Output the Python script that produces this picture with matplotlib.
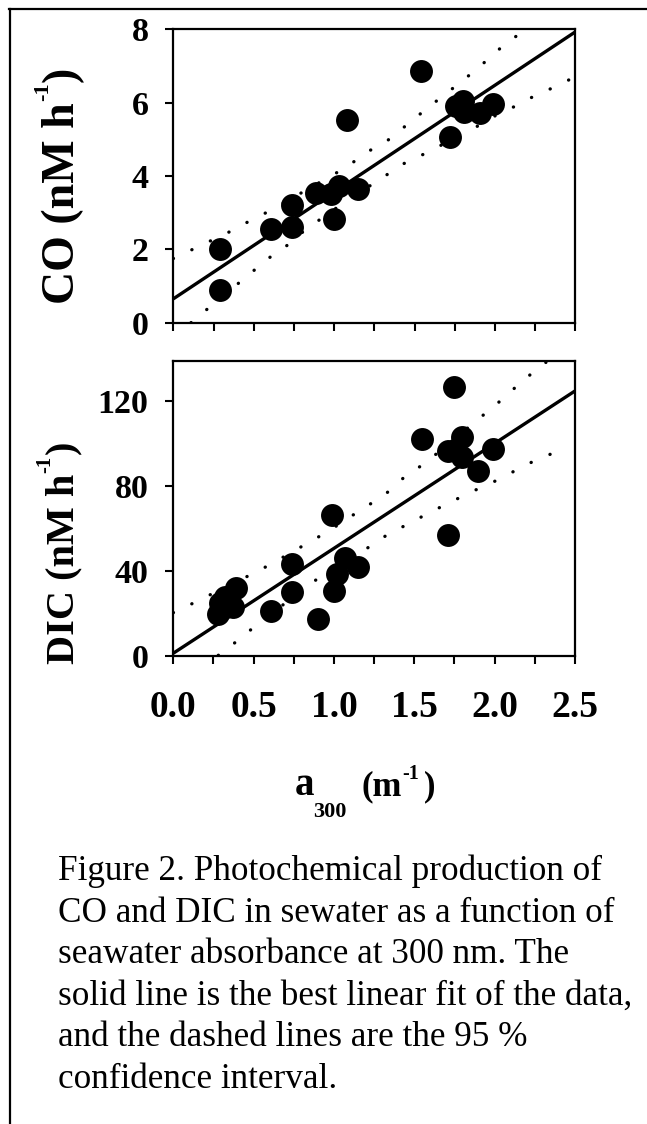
import matplotlib
matplotlib.use("Agg")
import matplotlib.pyplot as plt
from matplotlib.lines import Line2D

plt.rcParams['font.family'] = ['Liberation Serif', 'DejaVu Serif']

# ---------------- data ----------------
co_x = [0.29, 0.29, 0.61, 0.74, 0.74, 0.89, 0.98, 1.03, 1.00, 1.15, 1.08,
        1.54, 1.72, 1.76, 1.80, 1.81, 1.91, 1.99]
co_y = [2.02, 0.89, 2.55, 3.21, 2.62, 3.55, 3.51, 3.73, 2.84, 3.64, 5.53,
        6.86, 5.05, 5.92, 6.05, 5.75, 5.71, 5.96]

co_fit_x = [0.0, 2.5]
co_fit_y = [0.65, 7.93]

co_up_x = [0.0, 0.13, 0.365, 0.477, 0.60, 1.08, 1.20, 1.33, 1.44, 1.56,
           1.67, 1.80, 1.92, 2.03, 2.15, 2.18]
co_up_y = [1.75, 2.02, 2.51, 2.78, 3.05, 4.25, 4.64, 4.96, 5.35, 5.78,
           6.16, 6.60, 7.04, 7.47, 7.87, 8.0]
co_lo_x = [0.11, 0.23, 0.47, 0.59, 0.715, 0.82, 1.06, 1.31, 1.42, 1.55,
           1.67, 1.79, 1.91, 2.02, 2.15, 2.26, 2.38, 2.50]
co_lo_y = [0.0, 0.44, 1.31, 1.75, 2.13, 2.53, 3.27, 3.98, 4.31, 4.58,
           4.85, 5.13, 5.40, 5.69, 5.95, 6.22, 6.44, 6.71]

dic_x = [0.28, 0.29, 0.32, 0.37, 0.39, 0.61, 0.74, 0.74, 0.90, 0.99, 1.00,
         1.02, 1.07, 1.15, 1.55, 1.71, 1.71, 1.75, 1.80, 1.80, 1.90, 1.99]
dic_y = [19.7, 24.8, 27.9, 23.2, 32.1, 21.3, 43.2, 29.9, 17.2, 66.3, 30.7,
         38.4, 45.9, 42.0, 102.1, 96.5, 56.9, 126.6, 103.1, 93.7, 87.1, 97.4]

dic_fit_x = [0.0, 2.5]
dic_fit_y = [1.3, 124.7]

dic_up_x = [0.0, 0.13, 0.48, 0.60, 0.84, 0.97, 1.08, 1.20, 1.33, 1.44, 1.57,
            1.93, 2.04, 2.16, 2.28, 2.32]
dic_up_y = [20.4, 25.1, 38.2, 42.9, 53.3, 58.9, 64.5, 70.2, 76.8, 84.3, 90.9,
            113.4, 120.3, 128.5, 136.0, 138.2]
dic_lo_x = [0.28, 0.40, 0.52, 0.88, 1.24, 1.35, 1.48, 1.59, 1.72, 1.84,
            1.955, 2.08, 2.19, 2.31, 2.44]
dic_lo_y = [0.3, 7.2, 14.7, 35.4, 52.3, 58.0, 62.7, 67.4, 72.1, 76.8,
            80.5, 85.2, 89.9, 93.7, 98.1]

x_ticks = [0.0, 0.25, 0.5, 0.75, 1.0, 1.25, 1.5, 1.75, 2.0, 2.25, 2.5]
x_ticklabels = ['0.0', '', '0.5', '', '1.0', '', '1.5', '', '2.0', '', '2.5']
co_yticks = [0, 2, 4, 6, 8]
dic_yticks = [0, 40, 80, 120]

co_label = ["CO (nM h", "-1", ")"]
dic_label = ["DIC (nM h", "-1", ")"]
x_label = ["a", "300", "(m", "-1", ")"]

caption_lines = [
    "Figure 2. Photochemical production of",
    "CO and DIC in sewater as a function of",
    "seawater absorbance at 300 nm. The",
    "solid line is the best linear fit of the data,",
    "and the dashed lines are the 95 %",
    "confidence interval.",
]

# ---------------- figure ----------------
W, H = 647, 1124
fig = plt.figure(figsize=(W / 100, H / 100), dpi=100)


def fx(x):
    return x / W


def fy(y):
    return 1 - y / H


def make_axes(l, t, r, b):
    return fig.add_axes([fx(l), fy(b), fx(r) - fx(l), fy(t) - fy(b)])


ax1 = make_axes(173.3, 29.3, 575.3, 322.7)
ax2 = make_axes(173.3, 360.7, 574.8, 656.0)

dot_style = dict(color='black', linewidth=2.4, linestyle=(0, (0.05, 6.1)),
                 dash_capstyle='round', clip_on=True)


def draw(ax, xs, ys, fx_, fy_, ux, uy, lx, ly, ylim, yticks):
    ax.plot(ux, uy, **dot_style)
    ax.plot(lx, ly, **dot_style)
    ax.plot(fx_, fy_, color='black', linewidth=2.4, solid_capstyle='butt')
    ax.plot(xs, ys, linestyle='none', marker='o', markersize=16.5,
            color='black', markeredgewidth=0)
    ax.set_xlim(0, 2.5)
    ax.set_ylim(*ylim)
    ax.set_xticks(x_ticks)
    ax.set_yticks(yticks)
    ax.set_yticklabels([str(v) for v in yticks], fontsize=24.5,
                       fontweight='bold')
    for s in ax.spines.values():
        s.set_linewidth(1.6)
    ax.tick_params(axis='both', direction='out', length=5.8, width=1.5)
    ax.tick_params(axis='y', pad=12)
    ax.tick_params(axis='x', pad=19)


draw(ax1, co_x, co_y, co_fit_x, co_fit_y, co_up_x, co_up_y, co_lo_x, co_lo_y,
     (0, 8), co_yticks)
ax1.set_xticklabels([])

draw(ax2, dic_x, dic_y, dic_fit_x, dic_fit_y, dic_up_x, dic_up_y, dic_lo_x,
     dic_lo_y, (0, 139), dic_yticks)
ax2.set_xticklabels(x_ticklabels, fontsize=27, fontweight='bold')

renderer = fig.canvas.get_renderer()
bold = dict(fontweight='bold', color='black')


def rot_label(pieces, sizes, shifts, gaps, x_base, y_bottom):
    """Vertical label built from pieces, running upward from y_bottom (px)."""
    y = y_bottom
    for txt, size, sh, gap in zip(pieces, sizes, shifts, gaps):
        y -= gap
        t = fig.text(fx(x_base - sh), fy(y), txt, fontsize=size, rotation=90,
                     rotation_mode='anchor', ha='left', va='baseline', **bold)
        ext = t.get_window_extent(renderer)
        y -= ext.height


rot_label(co_label, [33, 16, 33], [0, 26, 0], [0, 1, 1], 74, 304)
rot_label(dic_label, [29, 15, 29], [0, 23, 0], [0, 1, 1], 73, 664)

# x-axis label built from pieces
fig.text(fx(295), fy(795), x_label[0], fontsize=28, ha='left', va='baseline', **bold)
fig.text(fx(313), fy(817), x_label[1], fontsize=16, ha='left', va='baseline', **bold)
fig.text(fx(361), fy(795), x_label[2], fontsize=25, ha='left', va='baseline', **bold)
fig.text(fx(402), fy(779), x_label[3], fontsize=14.5, ha='left', va='baseline', **bold)
fig.text(fx(424), fy(795), x_label[4], fontsize=25, ha='left', va='baseline', **bold)

# caption
base0 = 880.0
step = 41.6
for i, line in enumerate(caption_lines):
    fig.text(fx(58), fy(base0 + i * step), line, fontsize=25.3, ha='left',
             va='baseline', color='black')

# page frame lines (top and left)
fig.add_artist(Line2D([fx(9), fx(W)], [fy(9), fy(9)], color='black',
                      linewidth=1.6, transform=fig.transFigure))
fig.add_artist(Line2D([fx(9.5), fx(9.5)], [fy(9), fy(H)], color='black',
                      linewidth=1.6, transform=fig.transFigure))

fig.savefig("out.png", dpi=100)
